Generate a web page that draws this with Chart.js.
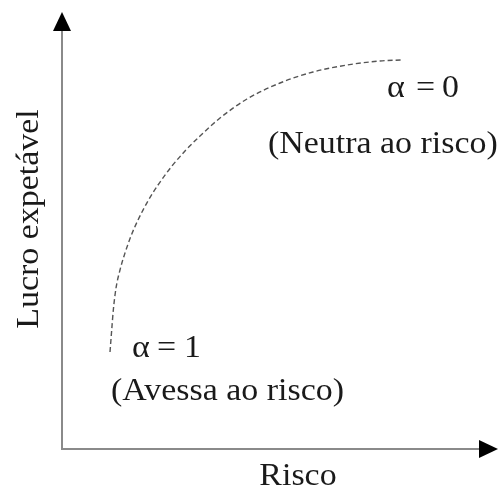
<!DOCTYPE html>
<html>
<head>
<meta charset="utf-8">
<script src="https://cdn.jsdelivr.net/npm/chart.js@4"></script>
<style>
  html, body { margin: 0; padding: 0; background: #fff; }
  #wrap { width: 503px; height: 489px; position: relative; }
</style>
</head>
<body>
<div id="wrap"><canvas id="grafico"></canvas></div>
<script>
// Curva de indiferença (risco, lucro esperado)
const risco = [11.01, 11.40, 11.77, 12.39, 13.30, 14.45, 15.83, 17.43, 19.72, 22.02, 25.23, 28.21, 31.65, 36.24, 42.43, 50.00, 57.57, 65.37, 72.94, 77.98];
const lucro = [22.20, 27.23, 31.81, 36.84, 40.96, 44.85, 48.74, 52.40, 56.75, 60.41, 64.76, 68.19, 71.62, 75.74, 80.09, 83.75, 86.27, 87.87, 88.79, 89.02];

// Textos
const tituloX = 'Risco';
const tituloY = 'Lucro expetável';
const rotulos = ['(Neutra ao risco)', '(Avessa ao risco)'];

const pontos = risco.map((x, i) => ({ x: x, y: lucro[i] }));

const FONTE = '32px "Liberation Serif", "Times New Roman", serif';
const COR_TEXTO = '#1a1a1a';
const ESTICAR = 1.06;

// Desenha um texto ligeiramente esticado na horizontal
function texto(ctx, str, x, y) {
  ctx.save();
  ctx.translate(x, y);
  ctx.scale(ESTICAR, 1);
  ctx.fillText(str, 0, 0);
  ctx.restore();
}

// Plugin: eixos com setas e anotações
const eixosPlugin = {
  id: 'eixos',
  afterDraw(chart) {
    const ctx = chart.ctx;
    const xs = chart.scales.x;
    const ys = chart.scales.y;
    const x0 = xs.getPixelForValue(0);
    const x1 = xs.getPixelForValue(100);
    const y0 = ys.getPixelForValue(0);
    const y1 = ys.getPixelForValue(100);

    ctx.save();
    // linhas dos eixos
    ctx.strokeStyle = '#8a8a8a';
    ctx.lineWidth = 2;
    ctx.beginPath();
    ctx.moveTo(x0, y1 + 16);
    ctx.lineTo(x0, y0);
    ctx.lineTo(x1 - 16, y0);
    ctx.stroke();

    // setas
    ctx.fillStyle = '#000';
    ctx.beginPath();
    ctx.moveTo(x0, y1);
    ctx.lineTo(x0 - 9, y1 + 19);
    ctx.lineTo(x0 + 9, y1 + 19);
    ctx.closePath();
    ctx.fill();
    ctx.beginPath();
    ctx.moveTo(x1, y0);
    ctx.lineTo(x1 - 19, y0 - 9);
    ctx.lineTo(x1 - 19, y0 + 9);
    ctx.closePath();
    ctx.fill();

    // textos
    ctx.font = FONTE;
    ctx.fillStyle = COR_TEXTO;
    ctx.textAlign = 'left';
    ctx.textBaseline = 'alphabetic';
    // α = 0
    texto(ctx, 'α', 387, 97);
    texto(ctx, '=', 416, 97);
    texto(ctx, '0', 442, 97);
    texto(ctx, rotulos[0], 268, 153);
    // α = 1
    texto(ctx, 'α', 132, 357);
    texto(ctx, '=', 157, 357);
    texto(ctx, '1', 184, 357);
    texto(ctx, rotulos[1], 111, 400);

    // título do eixo X
    ctx.textAlign = 'center';
    texto(ctx, tituloX, 298, 485);

    // título do eixo Y (rodado)
    ctx.save();
    ctx.translate(38, 219);
    ctx.rotate(-Math.PI / 2);
    ctx.scale(ESTICAR, 1);
    ctx.textAlign = 'center';
    ctx.fillText(tituloY, 0, 0);
    ctx.restore();

    ctx.restore();
  }
};

new Chart(document.getElementById('grafico'), {
  type: 'scatter',
  data: {
    datasets: [{
      data: pontos,
      showLine: true,
      borderColor: '#555',
      borderWidth: 1.4,
      borderDash: [5, 3],
      pointRadius: 0,
      cubicInterpolationMode: 'monotone',
      fill: false
    }]
  },
  options: {
    responsive: true,
    maintainAspectRatio: false,
    animation: false,
    layout: { padding: { left: 62, right: 5, top: 12, bottom: 40 } },
    plugins: { legend: { display: false }, tooltip: { enabled: false } },
    scales: {
      x: { type: 'linear', min: 0, max: 100, display: false },
      y: { type: 'linear', min: 0, max: 100, display: false }
    }
  },
  plugins: [eixosPlugin]
});
</script>
</body>
</html>
